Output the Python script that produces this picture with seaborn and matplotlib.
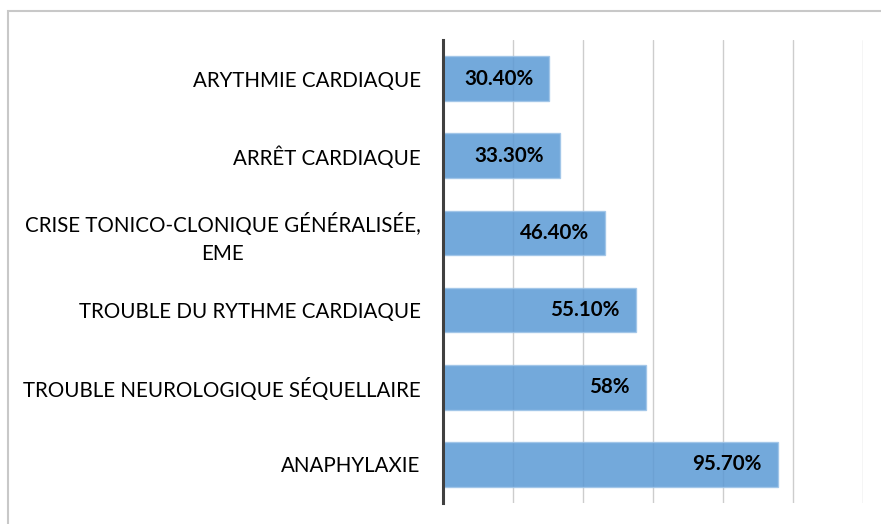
import matplotlib
matplotlib.use("Agg")
import matplotlib.pyplot as plt
import seaborn as sns
import pandas as pd
from matplotlib.patches import Rectangle

categories = ["ARYTHMIE CARDIAQUE", "ARRÊT CARDIAQUE",
              "CRISE TONICO-CLONIQUE GÉNÉRALISÉE,\nEME",
              "TROUBLE DU RYTHME CARDIAQUE",
              "TROUBLE NEUROLOGIQUE SÉQUELLAIRE", "ANAPHYLAXIE"]
values = [30.4, 33.3, 46.4, 55.1, 58.0, 95.7]
value_labels = ["30.40%", "33.30%", "46.40%", "55.10%", "58%", "95.70%"]

df = pd.DataFrame({"cat": categories, "val": values})

sns.set_theme(style="white")
plt.rcParams['font.family'] = ['Lato', 'DejaVu Sans']

fig = plt.figure(figsize=(8.81, 5.24), dpi=100)
ax = fig.add_axes([443/881, 1-503/524, (863-443)/881, (503-40)/524])

sns.barplot(data=df, x="val", y="cat", orient="h", ax=ax, color="#5B9AD5",
            saturation=1, width=0.58, alpha=0.85, edgecolor="#9EC4E8", linewidth=1.0)

ax.set_xlim(0, 120)
ax.set_ylim(5.5, -0.5)
ax.set_xticks([0, 20, 40, 60, 80, 100, 120])
ax.xaxis.grid(True, color="#CDCDCD", linewidth=1.0)
ax.set_axisbelow(True)
ax.tick_params(axis="x", length=0, labelbottom=False)
ax.tick_params(axis="y", length=0, pad=16)
ax.set_xlabel("")
ax.set_ylabel("")
for lbl in ax.get_yticklabels():
    lbl.set_fontsize(14.8)
    lbl.set_color("#000000")
    lbl.set_multialignment("center")
    lbl.set_linespacing(1.45)
for s in ["top", "right", "bottom"]:
    ax.spines[s].set_visible(False)
ax.spines["left"].set_color("#404040")
ax.spines["left"].set_linewidth(2.2)
ax.spines["left"].set_zorder(5)

for i, (v, t) in enumerate(zip(values, value_labels)):
    ax.annotate(t, xy=(v, i), xytext=(-16, 0), textcoords="offset pixels",
                ha="right", va="center", fontsize=14.8, fontweight="bold",
                color="#000000", zorder=6)

fig.patches.append(Rectangle((8/881, -0.1), 1.2, 1 - 11/524 + 0.1, transform=fig.transFigure,
                             fill=False, edgecolor="#C8C8C8", linewidth=1.5))

fig.savefig("out.png", dpi=100)
